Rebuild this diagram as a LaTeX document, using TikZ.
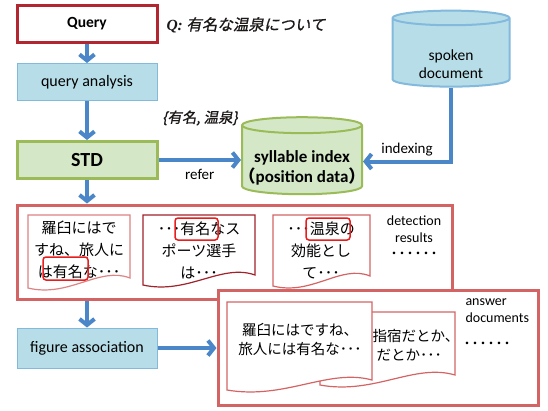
\documentclass[tikz,border=0pt]{standalone}
\usepackage{fontspec}
\setmainfont{Carlito}
\newfontfamily\jp{Noto Sans CJK JP}
\newfontfamily\jpit[FakeSlant=0.2, FakeBold=1]{Noto Sans CJK JP}
\newfontfamily\qserif{Liberation Serif}
\usetikzlibrary{arrows.meta,calc,positioning,shapes.geometric}
\definecolor{flowblue}{RGB}{74,134,200}
\definecolor{paleblue}{RGB}{183,222,232}
\definecolor{edgeblue}{RGB}{130,185,220}
\definecolor{palegreen}{RGB}{212,232,200}
\definecolor{edgegreen}{RGB}{155,187,89}
\definecolor{queryred}{RGB}{178,38,48}
\definecolor{framered}{RGB}{212,100,100}
\definecolor{hlred}{RGB}{232,30,30}
\definecolor{inkgray}{RGB}{30,25,25}
\tikzset{
  box/.style={draw, minimum width=140pt, minimum height=37pt, font=\fontsize{16}{18}\selectfont},
  querybox/.style={box, draw=queryred, line width=3pt, fill=white, font=\fontsize{15.5}{18}\selectfont\bfseries},
  bluebox/.style={box, fill=paleblue, draw=edgeblue, line width=1pt},
  greenbox/.style={box, fill=palegreen, draw=edgegreen, line width=3pt, font=\fontsize{20}{22}\selectfont\bfseries},
  db/.style={cylinder, shape border rotate=90, draw, line width=2pt, font=\fontsize{16}{18}\selectfont},
  flow/.style={draw=flowblue, line width=4pt, -{Straight Barb[length=6pt, width=15pt]}},
  frame/.style={draw=framered, line width=3pt, fill=white},
  hl/.style={draw=hlred, line width=1.5pt, rounded corners=3pt, inner sep=0pt},
  doctext/.style={align=center, font=\jp\fontsize{15}{22}\selectfont},
  note/.style={align=center, font=\fontsize{14}{17}\selectfont},
  dots/.style={font=\jp\fontsize{16}{18}\selectfont},
}
% sheet with a wavy lower edge: x1,y1,x2,y2,colour
\newcommand{\wavydoc}[5]{%
  \draw[line width=1.2pt, draw=#5, fill=white]
    (#1,#2) -- (#3,#2) -- (#3,#4-12)
    .. controls ({#3-0.3*(#3-#1)},#4-24) and ({#1+0.4*(#3-#1)},#4+8) .. (#1,#4-2) -- cycle;}

\begin{document}
\begin{tikzpicture}[x=1pt, y=-1pt]
  \useasboundingbox (0,0) rectangle (548,410);

  % Left column
  \node[querybox] (query) at (87,24) {Query};
  \node[bluebox] (qa) at (87,82) {query analysis};
  \node[greenbox] (std) at (87,160) {STD};
  \node[bluebox, minimum height=40pt] (figassoc) at (87,348) {figure association};

  \node[right, text=inkgray, font=\fontsize{15.5}{18}\selectfont] (qtext) at (163,25)
    {{\qserif\bfseries\itshape Q:} {\jpit 有名な温泉について}};
  \node[text=inkgray, font=\jpit\fontsize{14.5}{16}\selectfont] (terms) at (200,118) {\{有名, 温泉\}};

  % Databases
  \node[db, fill=palegreen, draw=edgegreen, aspect=0.17, minimum width=120pt, minimum height=77pt] (syl) at (302,161.5)
    {\phantom{syllable index}};
  \node[align=center, font=\fontsize{17}{20}\selectfont\bfseries] (syllabel) at (302,168)
    {syllable index\\{\jp （}position data{\jp ）}};
  \node[db, fill=paleblue, draw=edgeblue, aspect=0.2, minimum width=117pt, minimum height=76pt] (spoken) at (451,54)
    {\phantom{document}};
  \node[align=center, font=\fontsize{15.5}{18.5}\selectfont] (spokenlabel) at (451,64) {spoken\\document};

  % Arrows
  \draw[flow] (query) -- (qa);
  \draw[flow] (qa) -- (std);
  \draw[flow] (std.east) -- (std.east -| syl.west) node[midway, below=4pt, font=\fontsize{15}{17}\selectfont, text=black] {refer};
  \draw[flow] (spoken.south) |- (syl.east) node[pos=0.75, above, font=\fontsize{15}{17}\selectfont, text=black] {indexing};

  % Detection results
  \node[frame, minimum width=435pt, minimum height=94pt] (detect) at (234.5,252) {};
  \draw[flow] (std.south) -- (std.south |- detect.north);
  \wavydoc{28}{215}{130}{290}{framered!80}
  \wavydoc{143}{215}{255}{287}{queryred!90!black}
  \wavydoc{273}{215}{370}{288}{framered}
  \node[doctext] (doc1) at (79,250) {羅臼にはで\\すね、旅人に\\は有名な･･･};
  \node[doctext] (doc2) at (199,250) {･･･有名なス\\ポーツ選手\\は･･･};
  \node[doctext] (doc3) at (321,250) {･･･温泉の\\効能とし\\て･･･};
  \node[hl, minimum width=45pt, minimum height=23pt] (hl1) at (65.5,268.5) {};
  \node[hl, minimum width=43pt, minimum height=22pt] (hl2) at (196.5,229) {};
  \node[hl, minimum width=44pt, minimum height=22pt] (hl3) at (328,229) {};
  \node[note] (detlabel) at (414,229) {detection\\results};
  \node[dots] (detdots) at (414,256) {･･････};

  % Answer documents
  \draw[flow] (detect.south -| figassoc.north) -- (figassoc.north);
  \node[frame, minimum width=320pt, minimum height=115pt] (answer) at (378,347.5) {};
  \draw[flow] (figassoc.east) -- (figassoc.east -| answer.west);
  \wavydoc{320}{312}{455}{387}{framered}
  \node[right, align=left, font=\jp\fontsize{14.5}{19}\selectfont] (backdoc) at (369,345.5)
    {指宿だとか、\\\hspace{4pt}だとか･･･};
  \wavydoc{227}{302}{372}{392}{framered}
  \node[align=center, font=\jp\fontsize{14.5}{19}\selectfont] (frontdoc) at (300,339)
    {羅臼にはですね、\\旅人には有名な･･･};
  \node[note, align=left, anchor=west] (anslabel) at (462,311) {answer\\documents};
  \node[dots] (ansdots) at (487,346) {･･････};
\end{tikzpicture}
\end{document}
